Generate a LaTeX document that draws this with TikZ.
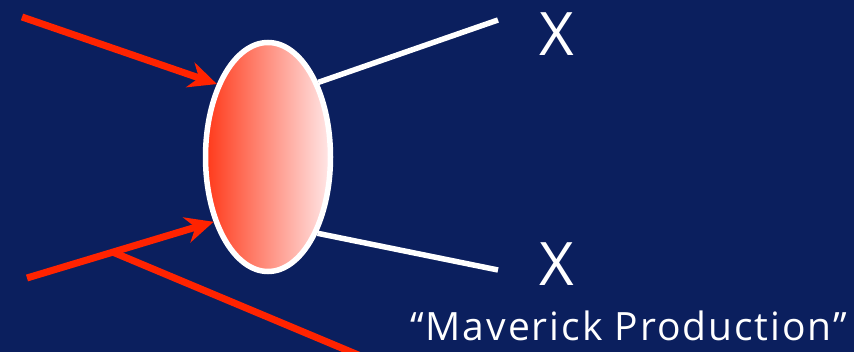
\documentclass[tikz,border=0pt]{standalone}
\usepackage{fontspec}
\setmainfont{Open Sans}
\usetikzlibrary{positioning,shapes,arrows.meta,calc}
\definecolor{bgblue}{RGB}{11,31,94}
\definecolor{hotred}{RGB}{255,35,0}
\definecolor{palepink}{RGB}{255,232,232}
\tikzset{blob node/.style={ellipse,draw=white,line width=5.5pt,minimum
width=125pt,minimum height=229pt,inner sep=0pt,
left color=hotred!90!white,right color=palepink},
x node/.style={text=white,font=\fontsize{60}{60}\selectfont,inner sep=0pt},
red line/.style={draw=hotred,line width=7pt},
white line/.style={draw=white,line width=5.5pt}}

\begin{document}
\begin{tikzpicture}[x=1pt,y=-1pt]
\fill[bgblue] (0,0) rectangle (854,352);
\useasboundingbox (0,0) rectangle (854,352);
\clip (0,0) rectangle (854,352);

\node[blob node] (blob) at (268,157) {};
\coordinate (in1) at (22,17);
\coordinate (in2) at (27,278);
\coordinate (out1) at (498,20);
\coordinate (out2) at (498,270);
\coordinate (away) at (375,362);
\node[x node] (x1) at (557,34) {X};
\node[x node] (x2) at (557,264) {X};
\node[text=white,font=\fontsize{39}{39}\selectfont\addfontfeature{LetterSpace=5},
inner sep=0pt,anchor=base west] (name) at (410,341) {“Maverick Production”};

\path[red line,-{Stealth[length=28pt,width=26pt]}]
(in1) -- (blob.125);
\path[red line,-{Stealth[length=28pt,width=26pt]}]
(in2) -- coordinate[pos=0.46] (split) (blob.230);
\path[red line] (split) -- (away);
\path[white line] (blob.56) -- (out1)
(blob.-57) -- (out2);
\end{tikzpicture}
\end{document}
